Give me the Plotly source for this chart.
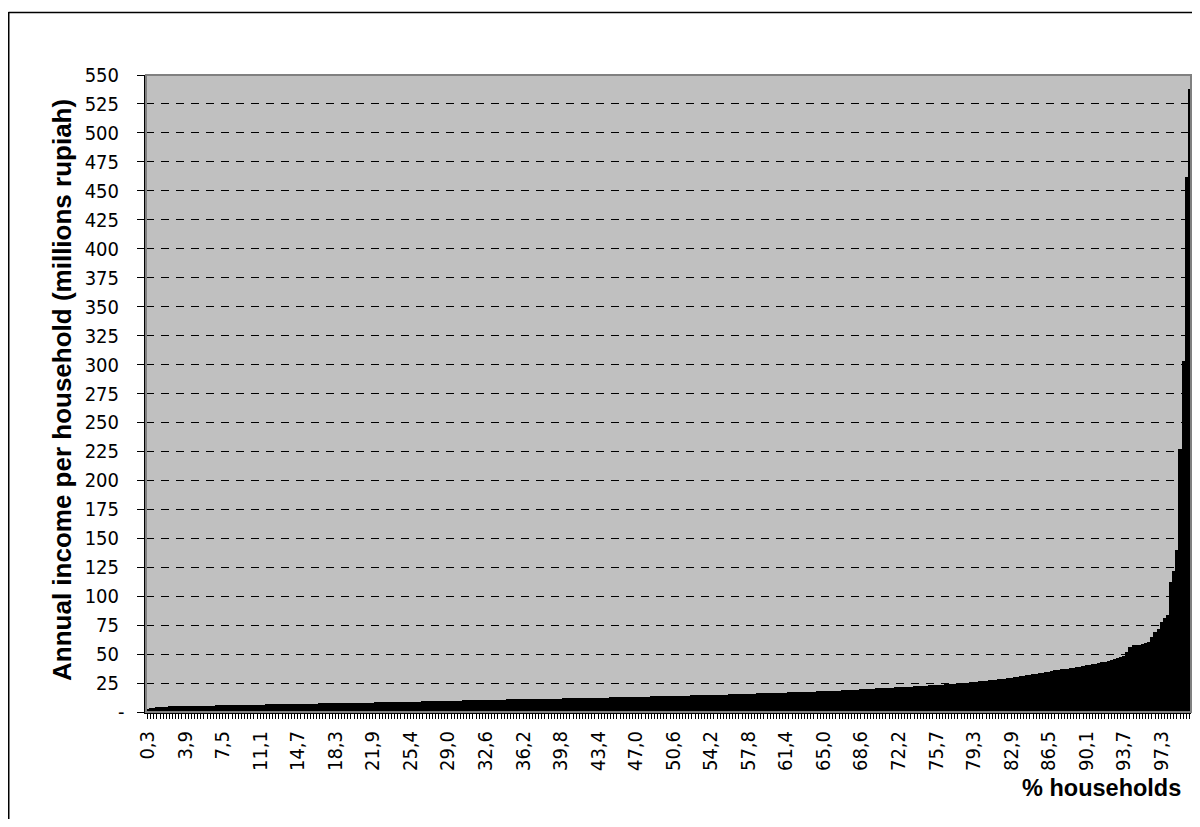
import plotly.graph_objects as go

N_HOUSEHOLDS = 334

# Annual income per household (millions rupiah), households sorted ascending
INCOME = [
    2.3, 3.2, 3.5, 4.0, 4.2, 4.4, 4.6, 4.8, 4.9, 5.0, 5.0, 5.1,
    5.1, 5.2, 5.2, 5.3, 5.3, 5.4, 5.4, 5.5, 5.5, 5.6, 5.7, 5.7,
    5.8, 5.8, 5.9, 5.9, 6.0, 6.0, 6.1, 6.1, 6.2, 6.2, 6.3, 6.3,
    6.4, 6.4, 6.5, 6.5, 6.6, 6.6, 6.7, 6.7, 6.8, 6.8, 6.9, 7.0,
    7.0, 7.1, 7.1, 7.2, 7.2, 7.3, 7.3, 7.4, 7.4, 7.5, 7.5, 7.6,
    7.6, 7.7, 7.7, 7.8, 7.8, 7.9, 7.9, 8.0, 8.0, 8.1, 8.1, 8.2,
    8.2, 8.3, 8.3, 8.4, 8.4, 8.5, 8.5, 8.6, 8.6, 8.7, 8.7, 8.8,
    8.8, 8.9, 9.0, 9.0, 9.1, 9.1, 9.2, 9.3, 9.3, 9.4, 9.5, 9.5,
    9.6, 9.7, 9.7, 9.8, 9.9, 10.0, 10.0, 10.1, 10.2, 10.2, 10.3, 10.4,
    10.4, 10.5, 10.5, 10.6, 10.6, 10.7, 10.7, 10.8, 10.8, 10.9, 10.9, 11.0,
    11.0, 11.1, 11.1, 11.2, 11.2, 11.3, 11.3, 11.4, 11.4, 11.5, 11.5, 11.6,
    11.6, 11.7, 11.7, 11.8, 11.9, 11.9, 12.0, 12.0, 12.1, 12.1, 12.2, 12.3,
    12.3, 12.4, 12.4, 12.5, 12.6, 12.6, 12.7, 12.7, 12.8, 12.9, 12.9, 13.0,
    13.0, 13.1, 13.2, 13.2, 13.3, 13.4, 13.4, 13.5, 13.6, 13.6, 13.7, 13.8,
    13.8, 13.9, 14.0, 14.0, 14.1, 14.2, 14.3, 14.3, 14.4, 14.5, 14.6, 14.6,
    14.7, 14.8, 14.9, 15.0, 15.0, 15.1, 15.2, 15.3, 15.4, 15.4, 15.5, 15.6,
    15.7, 15.8, 15.9, 16.0, 16.0, 16.1, 16.2, 16.3, 16.4, 16.5, 16.6, 16.7,
    16.8, 16.9, 17.0, 17.1, 17.2, 17.3, 17.4, 17.5, 17.6, 17.7, 17.8, 17.9,
    18.0, 18.1, 18.2, 18.3, 18.4, 18.5, 18.6, 18.8, 18.9, 19.0, 19.2, 19.3,
    19.5, 19.6, 19.8, 20.0, 20.1, 20.3, 20.5, 20.6, 20.8, 21.0, 21.1, 21.3,
    21.4, 21.6, 21.7, 21.9, 22.0, 22.2, 22.3, 22.5, 22.6, 22.8, 23.0, 23.1,
    23.3, 23.5, 23.7, 23.9, 24.1, 24.3, 24.5, 24.7, 24.9, 25.1, 25.3, 25.6,
    25.9, 26.2, 26.5, 26.8, 27.1, 27.4, 27.7, 28.0, 28.3, 28.6, 28.9, 29.2,
    29.6, 30.0, 30.4, 30.8, 31.2, 31.6, 32.0, 32.4, 32.8, 33.3, 33.8, 34.3,
    34.9, 35.4, 35.9, 36.3, 36.7, 37.1, 37.5, 37.9, 38.3, 38.7, 39.2, 39.7,
    40.2, 40.7, 41.2, 41.8, 42.4, 43.0, 43.6, 44.3, 45.0, 45.7, 46.4, 47.1,
    48.0, 51.5, 56.3, 57.5, 57.8, 58.2, 58.6, 59.2, 60.6, 64.9, 69.2, 72.1,
    77.8, 80.8, 83.6, 112.3, 121.6, 140.3, 227.3, 302.8, 462.3, 538.2,
]
assert len(INCOME) == N_HOUSEHOLDS

# cumulative % of households (category of each bar)
CATEGORIES = [f"{(k + 1) / N_HOUSEHOLDS * 100:.1f}".replace(".", ",")
              for k in range(N_HOUSEHOLDS)]

X_TICK_LABELS = ["0,3", "3,9", "7,5", "11,1", "14,7", "18,3", "21,9", "25,4",
                 "29,0", "32,6", "36,2", "39,8", "43,4", "47,0", "50,6", "54,2",
                 "57,8", "61,4", "65,0", "68,6", "72,2", "75,7", "79,3", "82,9",
                 "86,5", "90,1", "93,7", "97,3"]

Y_TICK_VALUES = [0, 25, 50, 75, 100, 125, 150, 175, 200, 225, 250, 275,
                 300, 325, 350, 375, 400, 425, 450, 475, 500, 525, 550]
Y_TICK_LABELS = ["-\u2009"] + [f"{v}\u2002" for v in Y_TICK_VALUES[1:]]

Y_TITLE = "Annual income per household (millions rupiah)"
X_TITLE = "% households"

TICK_FONT = "Liberation Sans Narrow, Arial Narrow, DejaVu Sans Condensed, sans-serif"
TITLE_FONT = "Liberation Sans, Arial, sans-serif"

fig = go.Figure(go.Bar(
    x=CATEGORIES, y=INCOME,
    marker=dict(color="#000000", line=dict(width=0)),
))

# The page adds an 8 px body margin; all geometry below is given in page pixels.
OFF = 8
W, H = 1184, 811
L, R, T, B = 138, 1, 67, 107
pw, ph = W - L - R, H - T - B


def px_x(page_x):
    return (page_x - OFF - L) / pw


def px_y(page_y):
    return (H - B - (page_y - OFF)) / ph


fig.update_layout(
    width=W, height=H,
    margin=dict(l=L, r=R, t=T, b=B, autoexpand=False),
    paper_bgcolor="#FFFFFF", plot_bgcolor="#C0C0C0",
    bargap=0, showlegend=False,
    font=dict(family=TICK_FONT, size=20, color="#000000"),
)
fig.update_xaxes(
    type="category", categoryorder="array", categoryarray=CATEGORIES,
    tickmode="array", tickvals=CATEGORIES,
    ticktext=[c if c in X_TICK_LABELS else "" for c in CATEGORIES],
    tickangle=-90, ticks="outside", ticklen=5, tickwidth=1, tickcolor="#000000",
    ticklabelstandoff=4,
    showline=True, linecolor="#000000", linewidth=2,
    showgrid=False, zeroline=False,
    tickfont=dict(family=TICK_FONT, size=20),
)
fig.update_yaxes(
    range=[0, 550], tickmode="array", tickvals=Y_TICK_VALUES, ticktext=Y_TICK_LABELS,
    ticks="outside", ticklen=7, tickwidth=1, tickcolor="#000000",
    ticklabelstandoff=5,
    showline=True, linecolor="#000000", linewidth=2,
    showgrid=True, gridcolor="#000000", gridwidth=1, griddash="8px,7px",
    zeroline=False,
    tickfont=dict(family=TICK_FONT, size=20),
)

# grey border of the plot area (top/right)
fig.add_shape(type="rect", xref="paper", yref="paper", x0=0, x1=1, y0=0, y1=1,
              line=dict(color="#808080", width=2), layer="above")
# outer chart frame (top and left edges are the visible ones)
fig.add_shape(type="line", xref="paper", yref="paper",
              x0=px_x(8.5), x1=px_x(1220), y0=px_y(12.5), y1=px_y(12.5),
              line=dict(color="#000000", width=1.5))
fig.add_shape(type="line", xref="paper", yref="paper",
              x0=px_x(8.75), x1=px_x(8.75), y0=px_y(12), y1=px_y(850),
              line=dict(color="#000000", width=1.5))

fig.add_annotation(text=f"<b>{Y_TITLE}</b>", xref="paper", yref="paper",
                   x=px_x(62), y=px_y(390), textangle=-90, showarrow=False,
                   xanchor="center", yanchor="middle",
                   font=dict(family=TITLE_FONT, size=26, color="#000000"))
fig.add_annotation(text=f"<b>{X_TITLE}</b>", xref="paper", yref="paper",
                   x=px_x(1183), y=px_y(788), showarrow=False,
                   xanchor="right", yanchor="middle",
                   font=dict(family=TITLE_FONT, size=23.5, color="#000000"))

fig.write_html("out.html")
